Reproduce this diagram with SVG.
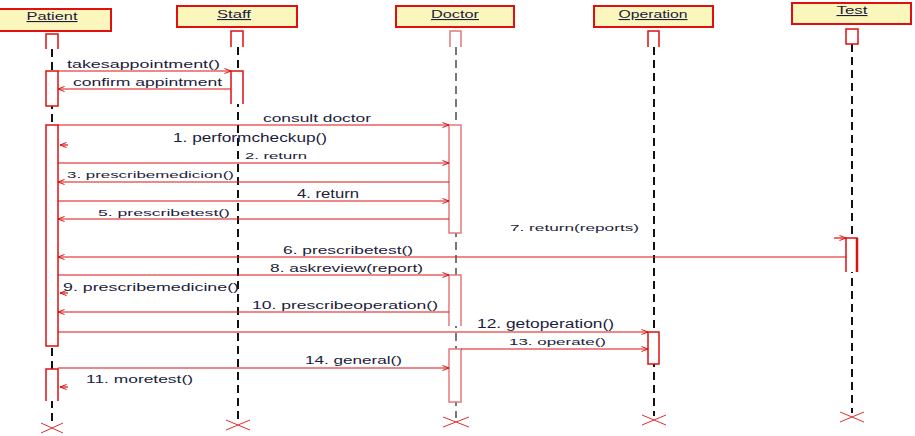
<svg xmlns="http://www.w3.org/2000/svg" width="915" height="436" viewBox="0 0 915 436">
<defs>
<marker id="arr" viewBox="0 0 8 8" refX="7.5" refY="4" markerWidth="8" markerHeight="8" markerUnits="userSpaceOnUse" orient="auto">
<path d="M1,1.5 L7.5,4 L1,6.5" fill="none" stroke="#dd1111" stroke-width="1"/>
</marker>
<style>
.hdr{fill:#fbf7bc;stroke:#e01010;stroke-width:2}
.hl{font-family:"Liberation Sans",Arial,sans-serif;font-size:11px;fill:#1c1c3c;text-anchor:middle;text-decoration:underline}
.life{stroke:#111;stroke-width:2;stroke-dasharray:8,5;fill:none}
.lifeg{stroke:#777;stroke-width:2;stroke-dasharray:8,5;fill:none}
.act{fill:#fff;stroke:#dd1111;stroke-width:1.5}
.actl{fill:#fff;stroke:#dd1111;stroke-width:1.5}
.actp{fill:#fff;stroke:#e47a7a;stroke-width:1.5}
.actpl{fill:#fff;stroke:#e47a7a;stroke-width:1.5}
.msg{stroke:#dd1111;stroke-width:1.2;fill:none;marker-end:url(#arr)}
.x{stroke:#e03030;stroke-width:1;fill:none}
.t{font-family:"Liberation Sans",Arial,sans-serif;fill:#1c1c3c}
.s9{font-size:9px}
.s11{font-size:11px}
.s12{font-size:12px}
</style>
</defs>

<g id="Patient">
<rect class="hdr" x="-2" y="9" width="113" height="22"/>
<text class="hl" x="52" y="20" textLength="51" lengthAdjust="spacingAndGlyphs">Patient</text>
<line class="life" x1="52" y1="49" x2="52" y2="424"/>
<path class="actl" d="M46,49 V34 H58 V49"/>
<rect class="act" x="46" y="71" width="12" height="35"/>
<rect class="act" x="46" y="125" width="12" height="221"/>
<path class="act" d="M46,401 V369 H58 V401"/>
<path class="x" d="M41,423 L63,433 M41,433 L63,423"/>
</g>

<g id="Staff">
<rect class="hdr" x="177" y="6" width="120" height="21"/>
<text class="hl" x="234" y="18" textLength="34" lengthAdjust="spacingAndGlyphs">Staff</text>
<line class="life" x1="238" y1="47" x2="238" y2="421"/>
<path class="actl" d="M231,47 V31 H243 V47"/>
<path class="act" d="M231,104 V71 H243 V104"/>
<path class="x" d="M226,420 L250,430 M226,430 L250,420"/>
</g>

<g id="Doctor">
<rect class="hdr" x="396" y="6" width="118" height="21"/>
<text class="hl" x="455" y="18" textLength="48" lengthAdjust="spacingAndGlyphs">Doctor</text>
<line class="lifeg" x1="456" y1="47" x2="456" y2="418"/>
<path class="actpl" d="M450,47 V31 H461 V47"/>
<rect class="actp" x="449" y="125" width="12" height="108"/>
<path class="actp" d="M449,326 V275 H461 V326"/>
<rect class="actp" x="449" y="349" width="12" height="53"/>
<path class="x" d="M443,417 L469,427 M443,427 L469,417"/>
</g>

<g id="Operation">
<rect class="hdr" x="594" y="6" width="119" height="21"/>
<text class="hl" x="653" y="18" textLength="69" lengthAdjust="spacingAndGlyphs">Operation</text>
<line class="life" x1="654" y1="47" x2="654" y2="416"/>
<path class="actl" d="M648,47 V31 H659 V47"/>
<rect class="act" x="648" y="332" width="11" height="32"/>
<path class="x" d="M642,415 L666,425 M642,425 L666,415"/>
</g>

<g id="Test">
<rect class="hdr" x="792" y="3" width="119" height="21"/>
<text class="hl" x="852" y="14" textLength="31" lengthAdjust="spacingAndGlyphs">Test</text>
<line class="life" x1="852" y1="44" x2="852" y2="413"/>
<rect class="act" x="846" y="29" width="12" height="15"/>
<path class="actl" d="M846,272 V238 H857 V272"/>
<line x1="857" y1="238" x2="857" y2="272" stroke="#dd1111" stroke-width="2.5"/>
<path class="x" d="M840,412 L864,422 M840,422 L864,412"/>
</g>

<g id="connectors">
<line class="msg" x1="58" y1="71" x2="231" y2="71"/>
<line class="msg" x1="231" y1="89" x2="58" y2="89"/>
<line class="msg" x1="58" y1="125" x2="449" y2="125"/>
<line class="msg" x1="68" y1="145" x2="60" y2="145"/>
<line class="msg" x1="58" y1="163" x2="449" y2="163"/>
<line class="msg" x1="449" y1="182" x2="58" y2="182"/>
<line class="msg" x1="58" y1="201" x2="449" y2="201"/>
<line class="msg" x1="449" y1="219" x2="58" y2="219"/>
<line class="msg" x1="834" y1="238" x2="846" y2="238"/>
<line class="msg" x1="846" y1="257" x2="58" y2="257"/>
<line class="msg" x1="58" y1="275" x2="449" y2="275"/>
<line class="msg" x1="68" y1="293" x2="60" y2="293"/>
<line class="msg" x1="449" y1="312" x2="58" y2="312"/>
<line class="msg" x1="58" y1="332" x2="648" y2="332"/>
<line class="msg" x1="461" y1="349" x2="648" y2="349"/>
<line class="msg" x1="58" y1="368" x2="449" y2="368"/>
<line class="msg" x1="68" y1="387" x2="60" y2="387"/>
</g>

<g id="labels">
<text class="t s11" x="67" y="68" textLength="153" lengthAdjust="spacingAndGlyphs">takesappointment()</text>
<text class="t s11" x="73" y="86" textLength="149" lengthAdjust="spacingAndGlyphs">confirm appintment</text>
<text class="t s11" x="263" y="122" textLength="108" lengthAdjust="spacingAndGlyphs">consult doctor</text>
<text class="t s12" x="173" y="142" textLength="154" lengthAdjust="spacingAndGlyphs">1. performcheckup()</text>
<text class="t s9" x="245" y="159" textLength="62" lengthAdjust="spacingAndGlyphs">2. return</text>
<text class="t s9" x="67" y="178" textLength="167" lengthAdjust="spacingAndGlyphs">3. prescribemedicion()</text>
<text class="t s12" x="297" y="198" textLength="62" lengthAdjust="spacingAndGlyphs">4. return</text>
<text class="t s9" x="98" y="216" textLength="132" lengthAdjust="spacingAndGlyphs">5. prescribetest()</text>
<text class="t s9" x="510" y="231" textLength="129" lengthAdjust="spacingAndGlyphs">7. return(reports)</text>
<text class="t s11" x="283" y="254" textLength="130" lengthAdjust="spacingAndGlyphs">6. prescribetest()</text>
<text class="t s11" x="270" y="272" textLength="153" lengthAdjust="spacingAndGlyphs">8. askreview(report)</text>
<text class="t s11" x="63" y="291" textLength="176" lengthAdjust="spacingAndGlyphs">9. prescribemedicine()</text>
<text class="t s11" x="252" y="309" textLength="186" lengthAdjust="spacingAndGlyphs">10. prescribeoperation()</text>
<text class="t s12" x="477" y="328" textLength="137" lengthAdjust="spacingAndGlyphs">12. getoperation()</text>
<text class="t s9" x="509" y="345" textLength="97" lengthAdjust="spacingAndGlyphs">13. operate()</text>
<text class="t s11" x="305" y="364" textLength="97" lengthAdjust="spacingAndGlyphs">14. general()</text>
<text class="t s11" x="86" y="383" textLength="107" lengthAdjust="spacingAndGlyphs">11. moretest()</text>
</g>
</svg>
